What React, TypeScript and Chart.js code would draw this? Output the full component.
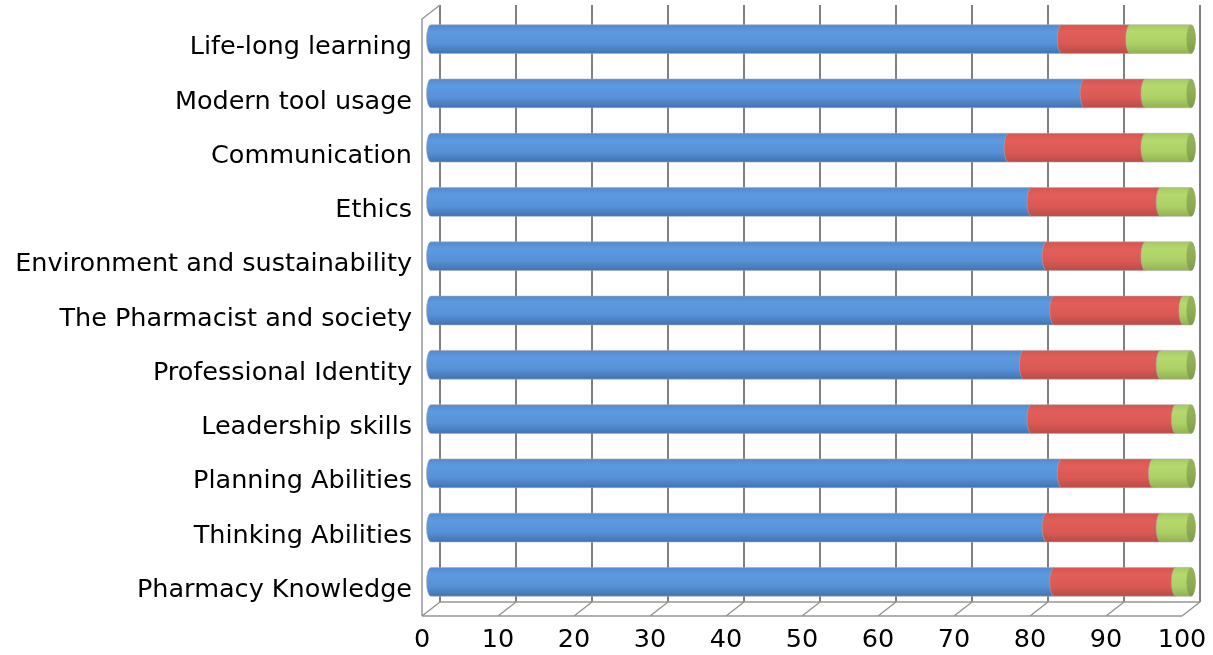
import React, { useEffect, useRef } from 'react';
import { Chart, registerables } from 'chart.js';

Chart.register(...registerables);

const categories = [
  'Life-long learning',
  'Modern tool usage',
  'Communication',
  'Ethics',
  'Environment and sustainability',
  'The Pharmacist and society',
  'Professional Identity',
  'Leadership skills',
  'Planning Abilities',
  'Thinking Abilities',
  'Pharmacy Knowledge',
];
const seriesBlue = [83, 86, 76, 79, 81, 82, 78, 79, 83, 81, 82];
const seriesRed = [9, 8, 18, 17, 13, 17, 18, 19, 12, 15, 16];
const seriesGreen = [8, 6, 6, 4, 6, 1, 4, 2, 5, 4, 2];
const xTickValues = [0, 10, 20, 30, 40, 50, 60, 70, 80, 90, 100];

const DX = 9;
const DY = 7;
const FONT = { family: 'DejaVu Sans', size: 25.5 };

const palettes = [
  { stops: ['#5689cc', '#5c9ae0', '#5791d7', '#4273b2'], cap: '#4a7cbf' },
  { stops: ['#d45551', '#e25e5a', '#da5955', '#b84c48'], cap: '#b84c48' },
  { stops: ['#a6c863', '#b5d96c', '#acd066', '#93b253'], cap: '#8fad55' },
];

const framePlugin = {
  id: 'frame3d',
  beforeDatasetsDraw(chart: any) {
    const { ctx, chartArea, scales } = chart;
    const { top, bottom } = chartArea;
    const x = scales.x;
    const x0 = x.getPixelForValue(0);
    const x100 = x.getPixelForValue(100);
    ctx.save();
    ctx.strokeStyle = '#808080';
    ctx.lineWidth = 2;
    xTickValues.forEach((v) => {
      const px = Math.round(x.getPixelForValue(v) + DX);
      ctx.beginPath();
      ctx.moveTo(px, top - DY);
      ctx.lineTo(px, bottom - DY);
      ctx.stroke();
    });
    ctx.strokeStyle = '#969696';
    ctx.lineWidth = 1.5;
    ctx.beginPath();
    ctx.moveTo(x0 - DX, bottom + DY);
    ctx.lineTo(x100 - DX, bottom + DY);
    ctx.moveTo(x0 + DX, bottom - DY);
    ctx.lineTo(x100 + DX, bottom - DY);
    xTickValues.forEach((v) => {
      const px = x.getPixelForValue(v);
      ctx.moveTo(px - DX, bottom + DY);
      ctx.lineTo(px + DX, bottom - DY);
    });
    ctx.moveTo(x0 - DX, bottom + DY);
    ctx.lineTo(x0 - DX, top + DY);
    ctx.lineTo(x0 + DX, top - DY);
    ctx.stroke();
    ctx.restore();
  },
};

const cylinderPlugin = {
  id: 'cylinders',
  afterDatasetsDraw(chart: any) {
    const { ctx } = chart;
    const n = chart.data.datasets.length;
    ctx.save();
    for (let d = 0; d < n; d++) {
      const meta = chart.getDatasetMeta(d);
      const pal = palettes[d];
      meta.data.forEach((el: any) => {
        const { x, y, base, height } = el.getProps(['x', 'y', 'base', 'height'], true);
        const ry = height / 2;
        const rx = 4.5;
        const t = y - ry;
        const b = y + ry;
        const last = d === n - 1;
        const g = ctx.createLinearGradient(0, t, 0, b);
        g.addColorStop(0, pal.stops[0]);
        g.addColorStop(0.25, pal.stops[1]);
        g.addColorStop(0.65, pal.stops[2]);
        g.addColorStop(1, pal.stops[3]);
        ctx.beginPath();
        ctx.moveTo(x, t);
        ctx.lineTo(base, t);
        ctx.ellipse(base, y, rx, ry, 0, -Math.PI / 2, Math.PI / 2, true);
        ctx.lineTo(x, b);
        if (last) {
          ctx.ellipse(x, y, rx, ry, 0, Math.PI / 2, -Math.PI / 2, true);
        }
        ctx.closePath();
        ctx.fillStyle = g;
        ctx.fill();
        ctx.strokeStyle = 'rgba(170,170,170,0.55)';
        ctx.lineWidth = 1;
        ctx.stroke();
        if (last) {
          const cg = ctx.createLinearGradient(0, t, 0, b);
          cg.addColorStop(0, '#95b45a');
          cg.addColorStop(0.5, pal.cap);
          cg.addColorStop(1, '#809c4b');
          ctx.beginPath();
          ctx.ellipse(x, y, rx, ry, 0, 0, Math.PI * 2);
          ctx.fillStyle = cg;
          ctx.fill();
        }
      });
    }
    ctx.restore();
  },
};

export default function App() {
  const ref = useRef<HTMLCanvasElement | null>(null);
  useEffect(() => {
    if (!ref.current) return;
    const chart = new Chart(ref.current, {
      type: 'bar',
      data: {
        labels: categories,
        datasets: [
          { label: 'Series 1', data: seriesBlue, backgroundColor: 'rgba(0,0,0,0)', borderWidth: 0 },
          { label: 'Series 2', data: seriesRed, backgroundColor: 'rgba(0,0,0,0)', borderWidth: 0 },
          { label: 'Series 3', data: seriesGreen, backgroundColor: 'rgba(0,0,0,0)', borderWidth: 0 },
        ],
      },
      options: {
        indexAxis: 'y',
        responsive: false,
        animation: false,
        barPercentage: 0.53,
        categoryPercentage: 1,
        layout: { padding: { left: 0, right: 22, top: 12, bottom: 0 } },
        plugins: { legend: { display: false }, tooltip: { enabled: false } },
        scales: {
          x: {
            stacked: true,
            min: 0,
            max: 100,
            afterFit: (s: any) => {
              s.height = 46;
              s.paddingLeft = 0;
              s.paddingRight = 0;
              s.paddingTop = 0;
              s.paddingBottom = 0;
            },
            afterBuildTicks: (s: any) => { s.ticks = xTickValues.map((v) => ({ value: v })); },
            grid: { display: false, drawTicks: false },
            border: { display: false },
            ticks: { font: FONT, color: '#000', labelOffset: -9, padding: 16, maxRotation: 0, autoSkip: false },
          },
          y: {
            stacked: true,
            afterFit: (s: any) => {
              s.width = 431;
              s.paddingLeft = 0;
              s.paddingRight = 0;
              s.paddingTop = 0;
              s.paddingBottom = 0;
            },
            grid: { display: false, drawTicks: false },
            border: { display: false },
            ticks: { font: FONT, color: '#000', labelOffset: 8.5, padding: 19, autoSkip: false },
          },
        },
      } as any,
      plugins: [framePlugin, cylinderPlugin],
    });
    return () => chart.destroy();
  }, []);
  return (
    <div style={{ position: 'absolute', left: 0, top: 0, width: 1213, height: 655, background: '#fff' }}>
      <canvas ref={ref} width={1213} height={655} />
    </div>
  );
}
